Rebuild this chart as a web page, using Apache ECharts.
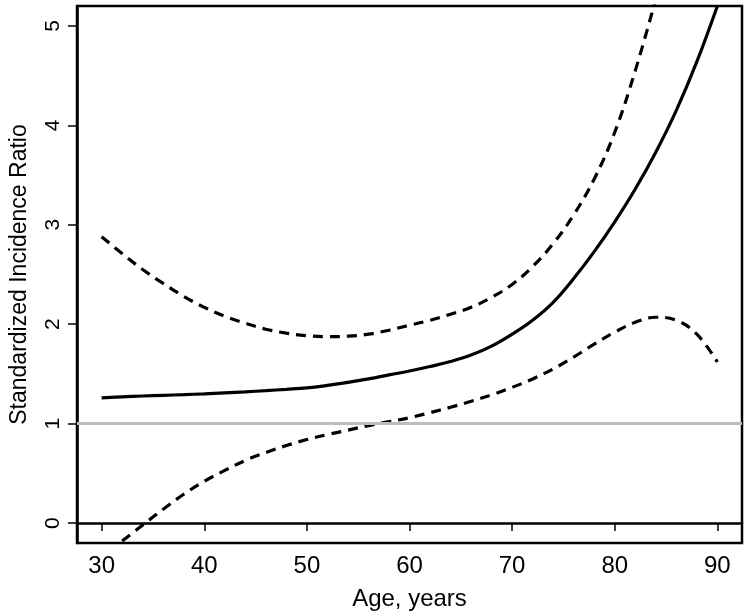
<!DOCTYPE html>
<html>
<head>
<meta charset="utf-8">
<script src="https://cdn.jsdelivr.net/npm/echarts@6/dist/echarts.min.js"></script>
<style>
  html, body { margin: 0; padding: 0; background: #fff; }
  #main { width: 750px; height: 616px; }
</style>
</head>
<body>
<div id="main"></div>
<script>
// age (years), 2-year steps
var ages = [30, 32, 34, 36, 38, 40, 42, 44, 46, 48, 50, 52, 54, 56, 58, 60,
            62, 64, 66, 68, 70, 72, 74, 76, 78, 80, 82, 84, 86, 88, 90];

// standardized incidence ratio (solid line)
var sir = [1.26, 1.27, 1.278, 1.285, 1.292, 1.30, 1.31, 1.32, 1.332, 1.345, 1.36, 1.385, 1.415, 1.45, 1.49, 1.53,
           1.575, 1.625, 1.69, 1.78, 1.90, 2.04, 2.22, 2.46, 2.73, 3.03, 3.36, 3.73, 4.15, 4.64, 5.20];

// upper confidence bound (dashed), leaves the plot near age 84
var upperAges = [30, 32, 34, 36, 38, 40, 42, 44, 46, 48, 50, 52, 54, 56, 58, 60,
                 62, 64, 66, 68, 70, 72, 74, 76, 78, 80, 82, 84];
var upper = [2.88, 2.71, 2.55, 2.41, 2.28, 2.17, 2.08, 2.01, 1.95, 1.91, 1.885, 1.875, 1.88, 1.90, 1.94, 1.99,
             2.04, 2.10, 2.17, 2.27, 2.40, 2.58, 2.81, 3.10, 3.46, 3.93, 4.55, 5.27];

// lower confidence bound (dashed), enters the plot near age 32
var lowerAges = [32, 34, 36, 38, 40, 42, 44, 46, 48, 50, 52, 54, 56, 58, 60,
                 62, 64, 66, 68, 70, 72, 74, 76, 78, 80, 82, 84, 86, 88, 90];
var lower = [-0.18, -0.02, 0.14, 0.29, 0.42, 0.53, 0.63, 0.71, 0.78, 0.84, 0.89, 0.935, 0.98, 1.02, 1.06,
             1.11, 1.165, 1.225, 1.29, 1.365, 1.45, 1.55, 1.67, 1.80, 1.92, 2.02, 2.07, 2.04, 1.90, 1.62];

var xTicks = [30, 40, 50, 60, 70, 80, 90];
var yTicks = [0, 1, 2, 3, 4, 5];
var refValue = 1;

function pairs(xs, ys) {
  return xs.map(function (x, i) { return [x, ys[i]]; });
}

var chart = echarts.init(document.getElementById('main'), null, { renderer: 'canvas' });

var font = 'Liberation Sans, Arial, Helvetica, sans-serif';

var option = {
  backgroundColor: '#ffffff',
  animation: false,
  grid: {
    left: 76, right: 8, top: 6, bottom: 73,
    show: true,
    borderColor: '#000',
    borderWidth: 2.5,
    backgroundColor: 'transparent'
  },
  xAxis: {
    type: 'value',
    min: 27.6,
    max: 92.4,
    name: 'Age, years',
    nameLocation: 'middle',
    nameGap: 44,
    nameTextStyle: { color: '#000', fontSize: 24, fontFamily: font },
    axisLine: { show: true, lineStyle: { color: '#000', width: 2.5 } },
    axisTick: { show: true, length: 8, customValues: xTicks, lineStyle: { color: '#000', width: 1.5 } },
    axisLabel: { customValues: xTicks, color: '#000', fontSize: 24, fontFamily: font, margin: 11 },
    splitLine: { show: false }
  },
  yAxis: {
    type: 'value',
    min: -0.2,
    max: 5.2,
    name: 'Standardized Incidence Ratio',
    nameLocation: 'middle',
    nameGap: 46,
    nameTextStyle: { color: '#000', fontSize: 23, fontFamily: font },
    axisLine: { show: true, lineStyle: { color: '#000', width: 2.5 } },
    axisTick: { show: true, length: 9, customValues: yTicks, lineStyle: { color: '#000', width: 1.5 } },
    axisLabel: { customValues: yTicks, rotate: 90, color: '#000', fontSize: 21, fontFamily: font, margin: 13 },
    splitLine: { show: false }
  },
  series: [
    {
      name: 'SIR',
      type: 'line',
      data: pairs(ages, sir),
      smooth: 0.4,
      showSymbol: false,
      lineStyle: { color: '#000', width: 3.2 },
      markLine: {
        silent: true,
        symbol: ['none', 'none'],
        label: { show: false },
        lineStyle: { color: '#bdbdbd', width: 3, type: 'solid' },
        data: [{ yAxis: refValue }]
      },
      z: 3
    },
    {
      name: 'Upper',
      type: 'line',
      data: pairs(upperAges, upper),
      smooth: 0.4,
      showSymbol: false,
      lineStyle: { color: '#000', width: 3.2, type: [10, 7] },
      z: 3
    },
    {
      name: 'Lower',
      type: 'line',
      data: pairs(lowerAges, lower),
      smooth: 0.4,
      showSymbol: false,
      lineStyle: { color: '#000', width: 3.2, type: [10, 7] },
      z: 3
    }
  ]
};

chart.setOption(option);
</script>
</body>
</html>
